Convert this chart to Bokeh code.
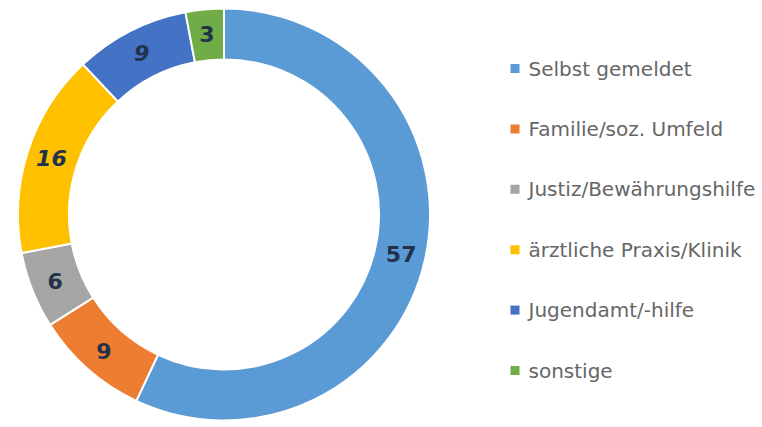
import numpy as np
from bokeh.plotting import figure
from bokeh.models import ColumnDataSource, Range1d
from bokeh.core.properties import value
from bokeh.embed import file_html
from bokeh.resources import INLINE

categories = ["Selbst gemeldet", "Familie/soz. Umfeld", "Justiz/Bewährungshilfe",
              "ärztliche Praxis/Klinik", "Jugendamt/-hilfe", "sonstige"]
values = [57, 9, 6, 16, 9, 3]
colors = ["#5B9BD5", "#ED7D31", "#A5A5A5", "#FFC000", "#4472C4", "#70AD47"]
label_styles = ["bold", "bold", "bold", "bold italic", "bold italic", "bold"]

W, H = 762, 427
cx, cy = 223.5, H - 214
r_out, r_in = 206, 155

vals = np.array(values, dtype=float)
frac = vals / vals.sum()
cum_after = np.cumsum(frac)
cum_before = cum_after - frac
start = np.pi / 2 - 2 * np.pi * cum_before
end = np.pi / 2 - 2 * np.pi * cum_after
mid = (start + end) / 2
r_mid = (r_out + r_in) / 2 + 1

src = ColumnDataSource(dict(
    cat=categories, val=values, color=colors, start=start, end=end,
    lx=cx + r_mid * np.cos(mid), ly=cy + r_mid * np.sin(mid),
    txt=[str(v) for v in values], style=label_styles,
))

p = figure(width=W, height=H, output_backend="svg", toolbar_location=None,
           x_range=Range1d(0, W), y_range=Range1d(0, H), min_border=0)
p.axis.visible = False
p.grid.visible = False
p.outline_line_color = None
p.background_fill_color = "white"

p.annular_wedge(x=cx, y=cy, inner_radius=r_in, outer_radius=r_out,
                start_angle="start", end_angle="end", direction="clock",
                fill_color="color", line_color="white", line_width=2, source=src)

p.text(x="lx", y="ly", text="txt", source=src, text_align="center", text_baseline="middle",
       text_font=value("DejaVu Sans"), text_font_size="22px", text_font_style="style",
       text_color="#22324a")

# legend
leg_x = 514.5
leg_y0 = H - 68
leg_step = 60.4
leg_y = [leg_y0 - i * leg_step for i in range(len(categories))]
leg = ColumnDataSource(dict(x=[leg_x] * len(categories), y=leg_y, cat=categories, color=colors,
                            tx=[528] * len(categories)))
p.scatter(x="x", y="y", marker="square", size=9, fill_color="color", line_color=None, source=leg)
p.text(x="tx", y="y", text="cat", source=leg, text_baseline="middle",
       text_font=value("DejaVu Sans"), text_font_size="20px", text_color="#666666")

open("out.html", "w").write(file_html(p, INLINE))
